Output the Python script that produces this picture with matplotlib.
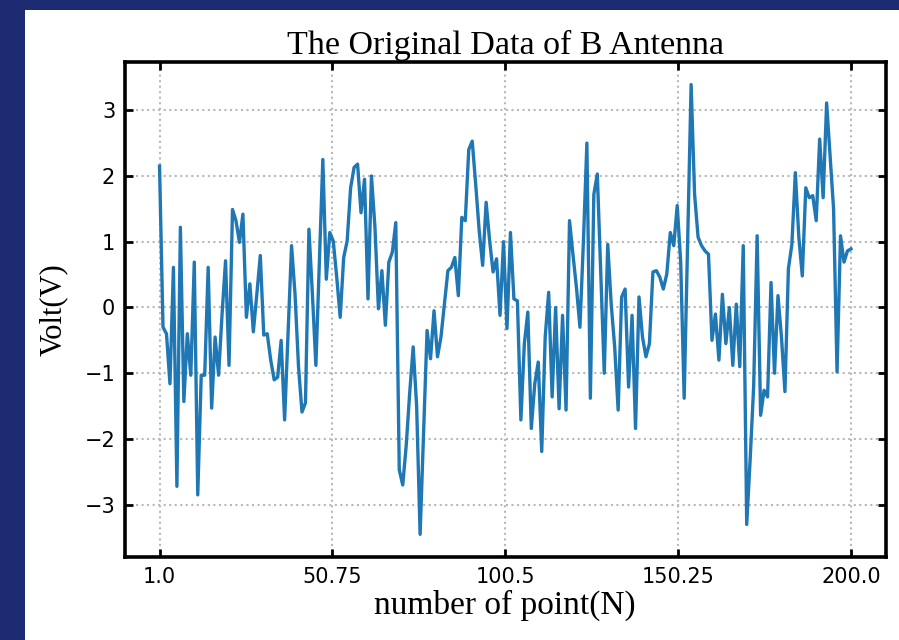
import numpy as np
import matplotlib
matplotlib.use("Agg")
import matplotlib.pyplot as plt
from matplotlib.patches import Rectangle

# B antenna voltage samples
volts = [
    2.15, -0.30, -0.40, -1.16, 0.61, -2.72, 1.22, -1.43, -0.40, -1.03,
    0.69, -2.85, -1.03, -1.03, 0.61, -1.53, -0.45, -1.03, -0.10, 0.71,
    -0.88, 1.49, 1.32, 0.99, 1.42, -0.15, 0.36, -0.37, 0.20, 0.79,
    -0.42, -0.40, -0.80, -1.10, -1.06, -0.50, -1.71, -0.40, 0.94, 0.20,
    -0.90, -1.59, -1.45, 1.19, 0.20, -0.88, 0.70, 2.25, 0.43, 1.14,
    1.01, 0.46, -0.15, 0.76, 1.01, 1.82, 2.13, 2.18, 1.44, 1.95,
    0.13, 2.00, 1.22, -0.02, 0.56, -0.27, 0.69, 0.84, 1.29, -2.47,
    -2.70, -2.10, -1.30, -0.60, -1.50, -3.45, -1.90, -0.35, -0.78, -0.05,
    -0.75, -0.45, 0.05, 0.56, 0.61, 0.76, 0.18, 1.37, 1.32, 2.40,
    2.53, 1.87, 1.17, 0.64, 1.60, 1.02, 0.54, 0.74, -0.12, 1.00,
    -0.32, 1.14, 0.13, 0.10, -1.71, -0.55, -0.07, -1.84, -1.16, -0.83,
    -2.19, -0.45, 0.23, -1.36, 0.00, -1.54, -0.12, -1.56, 1.32, 0.80,
    0.30, -0.30, 1.00, 2.50, -1.38, 1.72, 2.03, 0.50, -1.00, 0.96,
    0.05, -0.60, -1.56, 0.16, 0.28, -1.21, -0.12, -1.84, 0.16, -0.45,
    -0.75, -0.55, 0.54, 0.56, 0.46, 0.28, 0.51, 1.14, 0.94, 1.55,
    0.69, -1.38, 1.00, 3.39, 1.72, 1.07, 0.94, 0.86, 0.81, -0.50,
    -0.10, -0.80, 0.20, -0.55, 0.00, -0.88, 0.05, -0.90, 0.94, -3.30,
    -2.30, -1.20, 1.09, -1.64, -1.26, -1.36, 0.38, -1.00, 0.18, -0.45,
    -1.28, 0.59, 0.96, 2.05, 1.07, 0.48, 1.82, 1.67, 1.70, 1.32,
    2.56, 1.67, 3.11, 2.30, 1.50, -0.98, 1.09, 0.69, 0.86, 0.89,
]
points = np.arange(1, len(volts) + 1)
x_ticks = [1.0, 50.75, 100.5, 150.25, 200.0]
x_tick_labels = ["1.0", "50.75", "100.5", "150.25", "200.0"]
y_ticks = [-3, -2, -1, 0, 1, 2, 3]

serif = ["Liberation Serif", "DejaVu Serif"]

fig = plt.figure(figsize=(8.99, 6.4), dpi=100, facecolor="#1d2c72")
# white slide area behind the chart
fig.patches.append(Rectangle((25 / 899, 0), 1, 1 - 10 / 640,
                             transform=fig.transFigure, facecolor="white",
                             edgecolor="none", zorder=-10))

ax = fig.add_axes([0.139, 0.13, 0.846, 0.773], zorder=5)
ax.plot(points, volts, color="#1f77b4", lw=2.4)

ax.set_xticks(x_ticks)
ax.set_xticklabels(x_tick_labels)
ax.set_yticks(y_ticks)
ax.grid(True, linestyle=":", color="#b8b8b8", lw=1.5)
ax.tick_params(direction="in", top=True, right=True, length=6, width=2,
               labelsize=15, pad=7)
for s in ax.spines.values():
    s.set_linewidth(2.6)

ax.set_title("The Original Data of B Antenna", family=serif, fontsize=24.5, pad=6)
ax.set_xlabel("number of point(N)", family=serif, fontsize=24, labelpad=2)
ax.set_ylabel("Volt(V)", family=serif, fontsize=22, labelpad=12)

fig.savefig("out.png", dpi=100, facecolor=fig.get_facecolor())
